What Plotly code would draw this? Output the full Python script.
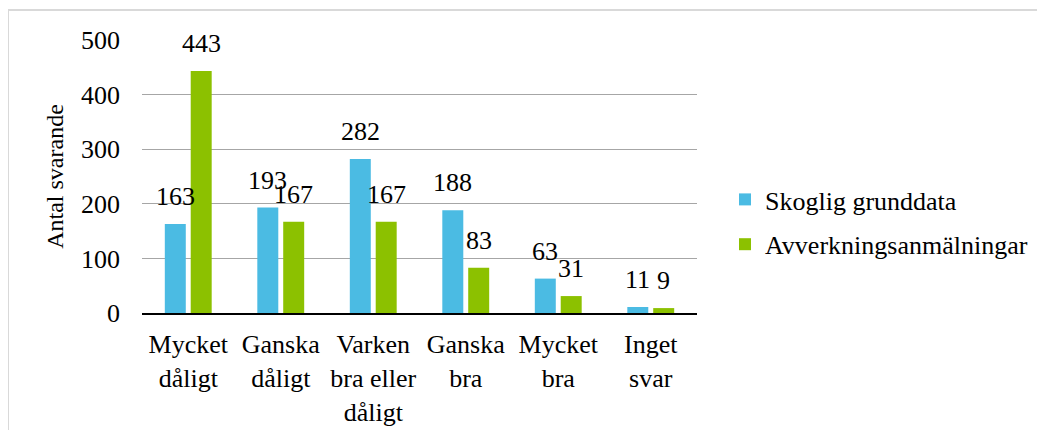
import plotly.graph_objects as go

categories = ["Mycket<br>dåligt", "Ganska<br>dåligt", "Varken<br>bra eller<br>dåligt", "Ganska<br>bra", "Mycket<br>bra", "Inget<br>svar"]
skoglig = [163, 193, 282, 188, 63, 11]
avverkning = [443, 167, 167, 83, 31, 9]
series_names = ["Skoglig grunddata", "Avverkningsanmälningar"]
colors = ["#4BBBE3", "#8CC100"]

FONT = "Liberation Serif"
FS = 26
W, H = 1045, 430
OFF = 8  # page body offset
L, T = 142 - OFF, 40 - OFF
pw, ph = 555, 273
R = W - L - pw
B = H - T - ph

fig = go.Figure()
for i, (name, vals, col) in enumerate(zip(series_names, [skoglig, avverkning], colors)):
    fig.add_trace(go.Bar(x=categories, y=vals, name=name, marker_color=col,
                         marker_line_width=0, legendgroup=f"g{i}"))

# data labels
for vals, shift in [(skoglig, -13), (avverkning, 13)]:
    for c, v in zip(categories, vals):
        fig.add_annotation(x=c, y=v, text=str(v), showarrow=False, xshift=shift,
                           yanchor="bottom", yshift=11,
                           font=dict(family=FONT, size=FS, color="black"))

fig.add_shape(type="rect", xref="paper", yref="paper",
              x0=(8 - OFF - L) / pw, x1=(1070 - L) / pw,
              y0=-(450 - T - ph) / ph,
              y1=(T + ph - (10 - OFF)) / ph,
              line=dict(color="#D9D9D9", width=2), layer="below")

fig.update_layout(
    width=W, height=H,
    margin=dict(l=L, r=R, t=T, b=B, autoexpand=False),
    paper_bgcolor="white", plot_bgcolor="white",
    font=dict(family=FONT, size=FS, color="black"),
    barmode="group", bargap=0.44, bargroupgap=0.19,
    showlegend=True,
    legend=dict(x=(740 - OFF - 15 - L) / pw, y=(T + ph - (222 - OFF)) / ph,
                xanchor="left", yanchor="middle",
                font=dict(family=FONT, size=FS, color="black"),
                itemsizing="constant", tracegroupgap=8),
    xaxis=dict(showline=True, linecolor="black", linewidth=2, ticks="",
               ticklabelstandoff=7,
               tickfont=dict(family=FONT, size=FS, color="black"), showgrid=False),
    yaxis=dict(range=[0, 500], dtick=100, showgrid=True, gridcolor="#A6A6A6",
               gridwidth=1, zeroline=False, ticks="", ticklabelstandoff=21,
               tickfont=dict(family=FONT, size=FS, color="black"),
               title=dict(text="Antal svarande", font=dict(family=FONT, size=24, color="black"),
                          standoff=10)),
)

fig.write_html("out.html")
